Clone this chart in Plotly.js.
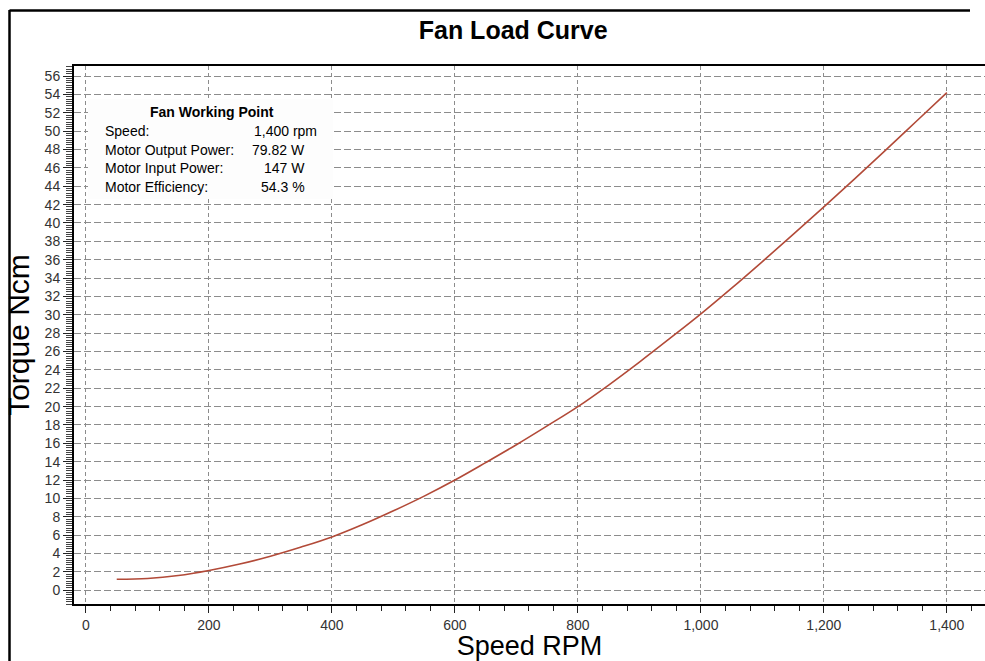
<!DOCTYPE html>
<html>
<head>
<meta charset="utf-8">
<script src="https://cdn.plot.ly/plotly-3.0.1.min.js"></script>
<style>
  html, body { margin: 0; padding: 0; background: #ffffff; overflow: hidden; }
  #chart { width: 985px; height: 661px; }
</style>
</head>
<body>
<div id="chart"></div>
<script>
// Fan load curve: speed (rpm) vs torque (Ncm)
const speedRpm = [50, 100, 150, 200, 250, 300, 350, 400, 450, 500, 550, 600, 650, 700, 750,
                  800, 850, 900, 950, 1000, 1050, 1100, 1150, 1200, 1250, 1300, 1350, 1400];
const torqueNcm = [1.2, 1.28, 1.6, 2.15, 2.85, 3.7, 4.7, 5.8, 7.15, 8.65, 10.25, 12.0, 13.9, 15.85, 17.9,
                   20.0, 22.35, 24.85, 27.45, 30.1, 32.9, 35.8, 38.75, 41.75, 44.8, 47.9, 51.05, 54.2];

const xTickVals = [0, 200, 400, 600, 800, 1000, 1200, 1400];
const xTickText = ["0", "200", "400", "600", "800", "1,000", "1,200", "1,400"];

const infoTitle = "Fan Working Point";
const infoLabels = ["Speed:", "Motor Output Power:", "Motor Input Power:", "Motor Efficiency:"];
const infoValues = ["1,400 rpm", "79.82 W", "147 W", "54.3 %"];

// layout helpers (pixel -> paper), plot area 74..985 x 66..604
const L = 74, T = 66, W = 911, H = 538;
const px = v => (v - L) / W;
const py = v => (T + H - v) / H;

const FONT = "Liberation Sans, Arial, sans-serif";
const rowY = [131, 149.5, 168, 187];
const valRight = [318, 306, 306, 306];

const annotations = [{
  text: "<b>" + infoTitle + "</b>", xref: "paper", yref: "paper",
  x: px(212), y: py(112), xanchor: "center", yanchor: "middle", showarrow: false,
  font: {family: FONT, size: 14, color: "#000"}
}];
infoLabels.forEach((lab, i) => {
  annotations.push({
    text: lab, xref: "paper", yref: "paper", x: px(103), y: py(rowY[i]),
    xanchor: "left", yanchor: "middle", showarrow: false,
    font: {family: FONT, size: 14, color: "#000"}
  });
  annotations.push({
    text: infoValues[i], xref: "paper", yref: "paper", x: px(valRight[i] + 1), y: py(rowY[i]),
    xanchor: "right", yanchor: "middle", showarrow: false,
    font: {family: FONT, size: 14, color: "#000"}
  });
});

const trace = {
  x: speedRpm, y: torqueNcm, type: "scatter", mode: "lines",
  line: {color: "#b24a38", width: 1.6, shape: "spline", smoothing: 1},
  hoverinfo: "skip"
};

const layout = {
  width: 985, height: 661,
  margin: {l: L, r: 0, t: T, b: 661 - T - H, pad: 0},
  paper_bgcolor: "#ffffff", plot_bgcolor: "#ffffff",
  showlegend: false,
  title: {
    text: "<b>Fan Load Curve</b>", x: 0.521, xref: "container", xanchor: "center",
    y: 1 - 30 / 661, yref: "container", yanchor: "middle",
    font: {family: FONT, size: 25, color: "#000"}
  },
  xaxis: {
    range: [-19.5, 1462], tickmode: "array", tickvals: xTickVals, ticktext: xTickText,
    ticks: "outside", ticklen: 7, tickwidth: 1, tickcolor: "#222",
    minor: {dtick: 40, tick0: 0, ticks: "outside", ticklen: 5, tickwidth: 1, tickcolor: "#222", showgrid: false},
    showline: true, linecolor: "#000", linewidth: 2, mirror: true,
    showgrid: true, gridcolor: "#8c8c8c", gridwidth: 1, griddash: "4px,3px",
    zeroline: false,
    tickfont: {family: FONT, size: 14, color: "#333"},
    title: {text: "Speed RPM", standoff: 9,
            font: {family: FONT, size: 27, color: "#000"}}
  },
  yaxis: {
    range: [-1.5, 57.1], tickmode: "linear", tick0: 0, dtick: 2,
    ticks: "outside", ticklen: 9, tickwidth: 1, tickcolor: "#222",
    minor: {dtick: 0.25, tick0: 0, ticks: "outside", ticklen: 6, tickwidth: 1, tickcolor: "#444", showgrid: false},
    showline: true, linecolor: "#000", linewidth: 2, mirror: false,
    showgrid: true, gridcolor: "#8c8c8c", gridwidth: 1, griddash: "7px,3px",
    zeroline: false,
    tickfont: {family: FONT, size: 14, color: "#333"},
    title: {text: "Torque Ncm", standoff: 6,
            font: {family: FONT, size: 30, color: "#000"}}
  },
  shapes: [
    {type: "rect", xref: "paper", yref: "paper",
     x0: px(88), x1: px(333), y0: py(199), y1: py(99),
     fillcolor: "#fdfdfd", line: {width: 0}, layer: "above"},
    {type: "line", xref: "paper", yref: "paper",
     x0: px(9.5), x1: px(9.5), y0: py(10), y1: py(680),
     line: {color: "#000", width: 2.5}, layer: "above"},
    {type: "line", xref: "paper", yref: "paper",
     x0: px(9.5), x1: px(970), y0: py(10.5), y1: py(10.5),
     line: {color: "#000", width: 2.5}, layer: "above"}
  ],
  annotations: annotations
};

Plotly.newPlot("chart", [trace], layout, {displayModeBar: false, staticPlot: true});
</script>
</body>
</html>
